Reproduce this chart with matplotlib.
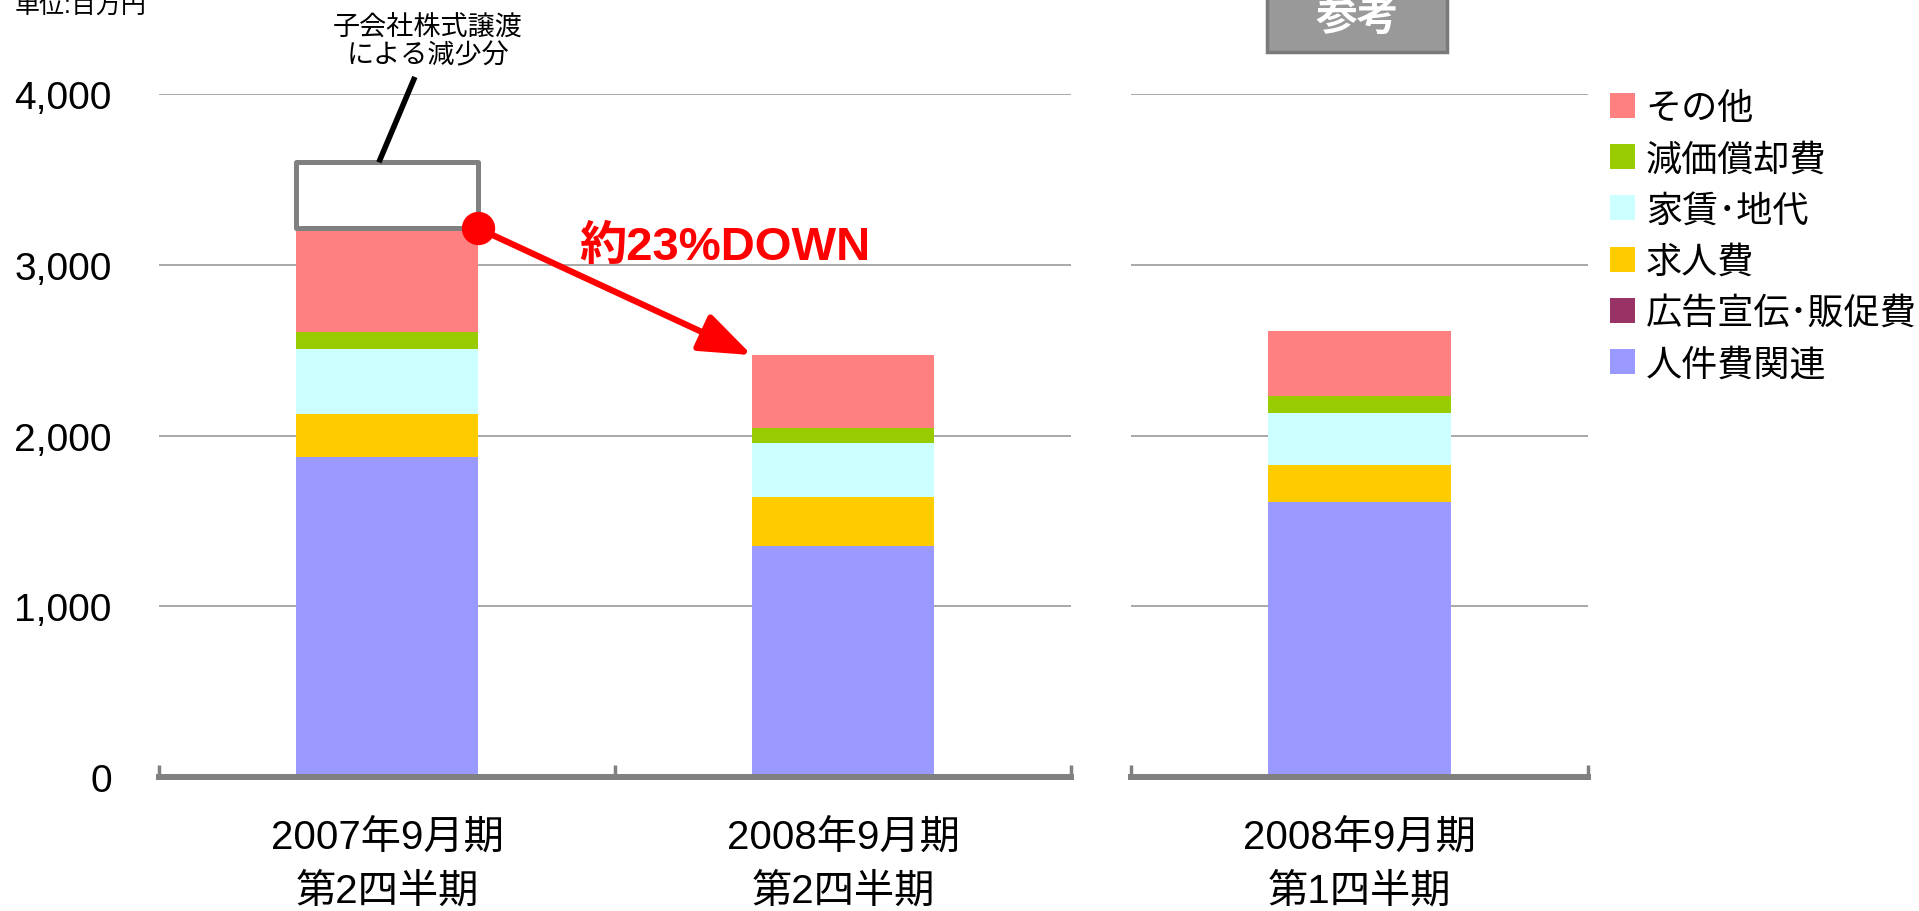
import matplotlib.pyplot as plt
from matplotlib.patches import Rectangle
import numpy as np

plt.rcParams['font.family'] = ['Liberation Sans', 'Noto Sans CJK JP']

# data (単位: 百万円)
periods = ['2007年9月期\n第2四半期', '2008年9月期\n第2四半期']
ref_period = ['2008年9月期\n第1四半期']
series = ['人件費関連', '広告宣伝･販促費', '求人費', '家賃･地代', '減価償却費', 'その他']
colors = ['#9999ff', '#993366', '#ffcc00', '#ccffff', '#99cc00', '#ff8080']

personnel = [1876, 1353]
advertising = [0, 0]
recruiting = [250, 287]
rent = [381, 314]
depreciation = [97, 88]
other = [609, 429]

ref_personnel = [1611]
ref_advertising = [0]
ref_recruiting = [216]
ref_rent = [305]
ref_depreciation = [98]
ref_other = [382]

divested = 387  # 子会社株式譲渡による減少分 (2007年9月期)

grey = '#808080'
bar_w = 0.4


def stacked(ax, values):
    x = np.arange(len(values[0]))
    bottom = np.zeros(len(x))
    bars = []
    for vals, c, name in zip(values, colors, series):
        bars.append(ax.bar(x, vals, bar_w, bottom=bottom, color=c, label=name, zorder=3))
        bottom = bottom + np.array(vals)
    return bottom, bars


def style(ax, labels):
    n = len(labels)
    ax.set_ylim(0, 4000)
    ax.set_xlim(-0.5, n - 0.5)
    ax.set_yticks(np.arange(0, 4001, 1000))
    ax.yaxis.grid(True, color='#999999', lw=1.2, zorder=0)
    for s in ['top', 'left', 'right']:
        ax.spines[s].set_visible(False)
    ax.spines['bottom'].set_color(grey)
    ax.spines['bottom'].set_linewidth(4.3)
    ax.spines['bottom'].set_zorder(4)
    ax.set_xticks(np.arange(-0.5, n), labels=[''] * (n + 1))
    ax.set_xticks(np.arange(n), labels=labels, minor=True)
    ax.tick_params(axis='x', which='major', direction='in', length=9, width=2.5, color=grey)
    ax.tick_params(axis='x', which='minor', length=0, pad=29, labelsize=29)
    ax.tick_params(axis='y', length=0, pad=34, labelsize=28)
    for t in ax.get_xticklabels(minor=True):
        t.set_linespacing(1.55)


fig = plt.figure(figsize=(19.19, 9.12), dpi=100)
ax = fig.add_axes([0.0829, 0.1469, 0.4752, 0.7489])
ax2 = fig.add_axes([0.5894, 0.1469, 0.2381, 0.7489])

totals, bars = stacked(ax, [personnel, advertising, recruiting, rent, depreciation, other])
stacked(ax2, [ref_personnel, ref_advertising, ref_recruiting, ref_rent, ref_depreciation, ref_other])

style(ax, periods)
style(ax2, ref_period)
ax.yaxis.set_major_formatter(plt.FuncFormatter(lambda v, p: f'{v:,.0f}'))
ax2.set_yticklabels([])

# divested subsidiary box on top of the first bar
ax.add_patch(Rectangle((-bar_w / 2, totals[0]), bar_w, divested, facecolor='white',
                       edgecolor=grey, lw=3.6, joinstyle='round', zorder=5))
ax.plot([-0.018, 0.061], [totals[0] + divested, 4100], color='black', lw=4,
        solid_capstyle='butt', clip_on=False, zorder=5)
ax.text(0.09, 4307, '子会社株式譲渡\nによる減少分', ha='center', va='center', fontsize=19.5,
        linespacing=1.1)

# decrease arrow
ax.annotate('', xy=(1 - bar_w / 2, totals[1]), xytext=(bar_w / 2, totals[0]),
            arrowprops=dict(arrowstyle='-|>,head_length=1.6,head_width=0.6', color='red',
                            lw=4.5, shrinkA=0, shrinkB=0, mutation_scale=20), zorder=6)
ax.plot(bar_w / 2, totals[0], 'o', color='red', ms=23, zorder=7, clip_on=False)
ax.text(0.74, 3105, '約23%DOWN', color='red', fontsize=34, fontweight='bold',
        ha='center', va='center')

# reference label
fig.add_artist(Rectangle((0.6602, 0.9419), 0.0938, 0.1, transform=fig.transFigure,
                         facecolor='#999999', edgecolor='#7a7a7a', lw=2.5))
fig.text(0.7071, 0.9797, '参考', color='white', fontsize=30, fontweight='bold',
         ha='center', va='center')

fig.text(0.0078, 0.9857, '単位:百万円', fontsize=18, va='baseline')

fig.legend([b for b in bars][::-1], series[::-1], loc='upper left',
           bbox_to_anchor=(0.839, 0.899), frameon=False, fontsize=26,
           handlelength=0.69, handleheight=0.69, handletextpad=0.3,
           labelspacing=0.45, borderpad=0, borderaxespad=0)

fig.savefig('out.png', dpi=100)
